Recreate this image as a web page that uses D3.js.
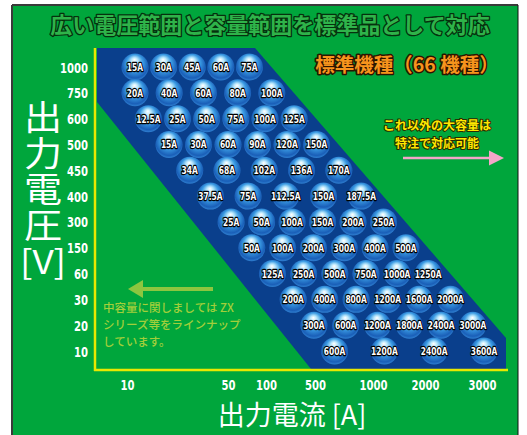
<!DOCTYPE html>
<html><head><meta charset="utf-8">
<script src="https://cdn.jsdelivr.net/npm/d3@7"></script>
<style>
body{margin:0;background:#fff;}
svg{display:block;}
.num{font-family:"DejaVu Sans Condensed","DejaVu Sans",sans-serif;font-weight:bold;}
.jp{font-family:"Noto Sans CJK JP",sans-serif;}
</style>
</head><body>
<script>
// ---- data ----
const voltages = ["1000","750","600","500","450","400","300","150","60","30","20","10"];
const currents = [
  [15,30,45,60,75],
  [20,40,60,80,100],
  [12.5,25,50,75,100,125],
  [15,30,60,90,120,150],
  [34,68,102,136,170],
  [37.5,75,112.5,150,187.5],
  [25,50,100,150,200,250],
  [50,100,200,300,400,500],
  [125,250,500,750,1000,1250],
  [200,400,800,1200,1600,2000],
  [300,600,1200,1800,2400,3000],
  [600,1200,2400,3600]
];
const xTicks = [10,50,100,500,1000,2000,3000];
const title = "広い電圧範囲と容量範囲を標準品として対応";
const yTitle = "出力電圧";
const yUnit = "[V]";
const xTitle = "出力電流 [A]";
const stdText = "標準機種（66 機種）";
const rightNote = ["これ以外の大容量は","特注で対応可能"];
const leftNote = ["中容量に関しましては ZX","シリーズ等をラインナップ","しています。"];

// ---- layout ----
const W=527,H=435;
const svg=d3.select("body").append("svg").attr("width",W).attr("height",H);
const defs=svg.append("defs");
const g=defs.append("radialGradient").attr("id","ball").attr("cx","50%").attr("cy","45%").attr("r","55%").attr("fx","48%").attr("fy","22%");
[[0,"#ffffff"],[0.22,"#b8e6fb"],[0.55,"#3b9be3"],[0.88,"#1a5fb8"],[1,"#2f7fd0"]].forEach(s=>g.append("stop").attr("offset",s[0]).attr("stop-color",s[1]));

// background
svg.append("rect").attr("x",12).attr("y",5).attr("width",506).attr("height",430).attr("fill","#00a63c");
svg.append("line").attr("x1",12).attr("y1",5).attr("x2",12).attr("y2",435).attr("stroke","#3a3a3a").attr("stroke-width",2);
svg.append("line").attr("x1",12).attr("y1",5).attr("x2",518).attr("y2",5).attr("stroke","#3a3a3a").attr("stroke-width",2);
svg.append("line").attr("x1",518).attr("y1",5).attr("x2",518).attr("y2",435).attr("stroke","#111").attr("stroke-width",1);

// plot geometry
const pL=97,pT=48,pB=369,pR=506;
const leftBreakY=102,leftBottomX=311,rightTopX=255,rightBreakY=338;
const leftEdge=y=>y<=leftBreakY?pL:pL+(leftBottomX-pL)*(y-leftBreakY)/(pB-leftBreakY);
const rightEdge=y=>y>=rightBreakY?pR:rightTopX+(pR-rightTopX)*(y-pT)/(rightBreakY-pT);

svg.append("polygon").attr("fill","#0a3f8c")
  .attr("points",[[pL,pT],[rightTopX,pT],[pR,rightBreakY],[pR,pB],[leftBottomX,pB],[pL,leftBreakY]].map(p=>p.join(",")).join(" "));

// axes frame (yellow)
svg.append("line").attr("x1",95).attr("y1",pT).attr("x2",95).attr("y2",371).attr("stroke","#e8e800").attr("stroke-width",2.5);
svg.append("line").attr("x1",94).attr("y1",370).attr("x2",508).attr("y2",370).attr("stroke","#e8e800").attr("stroke-width",2.5);

// scales
const y=d3.scalePoint().domain(voltages).range([67,351]);
const x=d3.scaleLinear().domain(xTicks).range([127,228,266,315,373,425,482]);

// y axis
const ya=svg.append("g").attr("transform","translate(88,0)").call(d3.axisLeft(y).tickSize(0).tickPadding(0));
ya.select(".domain").remove();
ya.selectAll("text").attr("class","num").attr("fill","#fff").style("font-size","14px").attr("dy","0.36em")
  .attr("transform","scale(0.8,1)");

// x axis
const xa=svg.append("g").attr("transform","translate(0,380)").call(d3.axisBottom(x).tickValues(xTicks).tickFormat(d3.format("d")).tickSize(0).tickPadding(0));
xa.select(".domain").remove();
xa.selectAll("text").attr("class","num").attr("fill","#fff").style("font-size","14px").attr("transform","scale(0.8,1)");

// bubbles
const padL=38,padR=22;
currents.forEach((row,r)=>{
  const yy=y(voltages[r]);
  const xs=d3.scalePoint().domain(row).range([leftEdge(yy)+padL,rightEdge(yy)-padR]);
  const gr=svg.append("g");
  gr.selectAll("circle").data(row).join("circle")
    .attr("cx",d=>xs(d)).attr("cy",yy).attr("r",13.5).attr("fill","url(#ball)");
  gr.selectAll("text").data(row).join("text").attr("class","num")
    .attr("transform",d=>`translate(${xs(d)},${yy}) scale(0.76,1)`)
    .attr("dy","0.36em").attr("text-anchor","middle")
    .style("font-size","11px").attr("fill","#fff").attr("stroke","#000").attr("stroke-width",2.4)
    .attr("stroke-linejoin","round").style("paint-order","stroke")
    .text(d=>d+"A");
});

// title
svg.append("text").attr("class","jp").attr("x",270).attr("y",33).attr("text-anchor","middle")
  .style("font-size","22px").style("font-weight","bold").attr("fill","#2fb34a").attr("stroke","#06300e").attr("stroke-width",2.6)
  .attr("stroke-linejoin","round").style("paint-order","stroke").text(title);

// y title (vertical)
svg.append("text").attr("class","jp")
  .attr("transform","translate(43,100) scale(1.12,1)")
  .style("writing-mode","vertical-rl").style("font-size","34px").style("letter-spacing","2px")
  .attr("fill","#fff").text(yTitle);
svg.append("text").attr("class","jp")
  .attr("transform","translate(43,274) scale(1.12,1)").attr("text-anchor","middle")
  .style("font-size","33px").attr("fill","#fff").text(yUnit);

// x title
svg.append("text").attr("class","jp").attr("x",292).attr("y",425).attr("text-anchor","middle")
  .style("font-size","27px").attr("fill","#fff").text(xTitle);

// standard models label
svg.append("text").attr("class","jp").attr("x",407).attr("y",72).attr("text-anchor","middle")
  .style("font-size","19.5px").style("font-weight","bold").attr("fill","#f7941d").attr("stroke","#2b1500").attr("stroke-width",3)
  .attr("stroke-linejoin","round").style("paint-order","stroke").text(stdText);

// right note
svg.append("g").selectAll("text").data(rightNote).join("text").attr("class","jp")
  .attr("x",437).attr("y",(d,i)=>130+i*18).attr("text-anchor","middle")
  .style("font-size","12px").style("font-weight","bold").attr("fill","#ffe800").attr("stroke","#2a2a00").attr("stroke-width",2)
  .attr("stroke-linejoin","round").style("paint-order","stroke").text(d=>d);
// pink arrow
svg.append("line").attr("x1",403).attr("y1",158).attr("x2",492).attr("y2",158).attr("stroke","#f4a6c9").attr("stroke-width",2.5);
svg.append("polygon").attr("fill","#f4a6c9").attr("points","489,150.5 504,158 489,165.5");

// left note + green arrow
svg.append("line").attr("x1",138).attr("y1",289).attr("x2",213).attr("y2",289).attr("stroke","#8cc63f").attr("stroke-width",4);
svg.append("polygon").attr("fill","#8cc63f").attr("points","143,280 128,289 143,298");
svg.append("g").selectAll("text").data(leftNote).join("text").attr("class","jp")
  .attr("x",103).attr("y",(d,i)=>312+i*17).style("font-size","11.5px").style("font-weight","500")
  .attr("fill","#a3cf3a").text(d=>d);
</script>
</body></html>
